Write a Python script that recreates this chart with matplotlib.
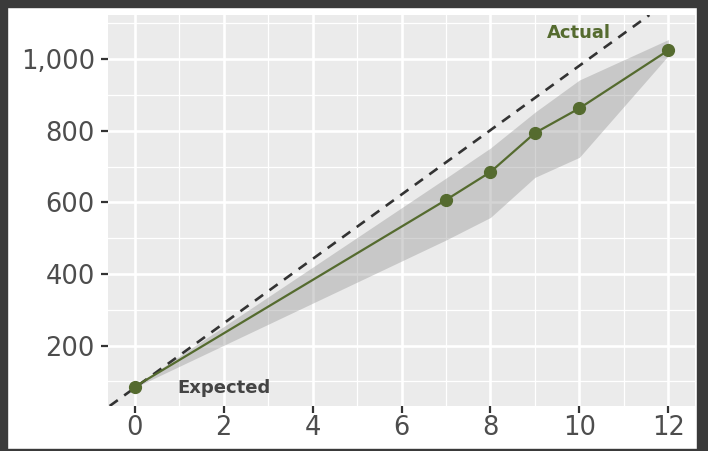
import matplotlib
matplotlib.use("Agg")
import matplotlib.pyplot as plt
from matplotlib.patches import Rectangle
from matplotlib.ticker import FuncFormatter, MultipleLocator

# Data
x_vals = [0, 7, 8, 9, 10, 12]
actual = [85, 607, 685, 794, 863, 1025]
lower = [83, 495, 558, 670, 726, 1010]
upper = [87, 668, 752, 852, 942, 1055]
expected_intercept = 82
expected_slope = 90
x_ticks = [0, 2, 4, 6, 8, 10, 12]
y_ticks = [200, 400, 600, 800, 1000]
label_actual = ("Actual", 10, 1074)
label_expected = ("Expected", 2, 81)

W, H = 708, 451
fig = plt.figure(figsize=(W / 100, H / 100), dpi=100)
fig.patch.set_facecolor("white")

# dark outer frame
frame_col = "#3a3a3a"
fig.patches.append(Rectangle((0, 1 - 7 / H), 1, 7 / H, transform=fig.transFigure, color=frame_col, zorder=-5))
fig.patches.append(Rectangle((0, 0), 7 / W, 1, transform=fig.transFigure, color=frame_col, zorder=-5))
fig.patches.append(Rectangle((1 - 11 / W, 0), 11 / W, 1, transform=fig.transFigure, color=frame_col, zorder=-5))
fig.patches.append(Rectangle((0, 0), 1, 2 / H, transform=fig.transFigure, color=frame_col, zorder=-5))

ax = fig.add_axes([108 / W, 1 - 406 / H, (695 - 108) / W, (406 - 15) / H])
ax.set_facecolor("#EBEBEB")
for s in ax.spines.values():
    s.set_visible(False)

ax.set_xlim(-0.6, 12.6)
ax.set_ylim(31.35, 1123.65)

ax.set_xticks(x_ticks)
ax.xaxis.set_minor_locator(MultipleLocator(1))
ax.set_yticks(y_ticks)
ax.yaxis.set_minor_locator(MultipleLocator(100))
ax.yaxis.set_major_formatter(FuncFormatter(lambda v, p: f"{int(v):,}"))

ax.grid(which="major", color="white", linewidth=1.9, zorder=0)
ax.grid(which="minor", color="white", linewidth=0.9, zorder=0)
ax.set_axisbelow(True)

ax.tick_params(axis="both", which="major", length=5, width=1.6, color="#333333",
               labelsize=18.5, labelcolor="#4d4d4d")
ax.tick_params(axis="y", which="major", pad=4.5)
ax.tick_params(axis="x", which="major", pad=1.5)
ax.tick_params(which="minor", length=0)

green = "#556B2F"
ax.fill_between(x_vals, lower, upper, color="#999999", alpha=0.42, linewidth=0, zorder=2)
ax.axline((0, expected_intercept), slope=expected_slope, color="#333333", linestyle=(0, (3.8, 3.0)),
          linewidth=1.9, zorder=3)
ax.plot(x_vals, actual, color=green, linewidth=1.6, zorder=4)
ax.plot(x_vals, actual, "o", color=green, markersize=8.5, zorder=5)

ax.text(label_actual[1], label_actual[2], label_actual[0], color=green, fontsize=13,
        fontweight="bold", ha="center", va="center", zorder=6)
ax.text(label_expected[1], label_expected[2], label_expected[0], color="#444444", fontsize=13,
        fontweight="bold", ha="center", va="center", zorder=6)

fig.savefig("out.png", dpi=100)
